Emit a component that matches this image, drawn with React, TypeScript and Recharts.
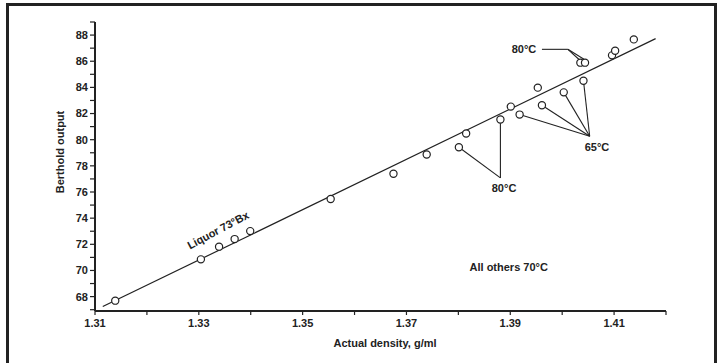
import { ComposedChart, Label, Line, Scatter, XAxis, YAxis } from "recharts";

// Measured points (actual density g/ml vs Berthold output)
const densities = [
  1.3139, 1.3304, 1.3339, 1.3369, 1.3399, 1.3554, 1.3675, 1.3739, 1.3801, 1.3815, 1.3881,
  1.3901, 1.3918, 1.3953, 1.3961, 1.4003, 1.4035, 1.4044, 1.4041, 1.4096, 1.4102, 1.4138,
];
const outputs = [
  67.69, 70.85, 71.82, 72.4, 73.01, 75.46, 77.39, 78.87, 79.42, 80.47, 81.54,
  82.53, 81.92, 83.98, 82.63, 83.62, 85.89, 85.89, 84.51, 86.45, 86.8, 87.67,
];

// Regression line end points
const fitDensity = [1.3115, 1.418];
const fitOutput = [67.24, 87.73];

// Leader lines for the temperature notes: [d1, v1, d2, v2]
const leaderSegments: [number, number, number, number][] = [
  [1.3961, 86.91, 1.4011, 86.91],
  [1.4011, 86.91, 1.4032, 86.15],
  [1.4011, 86.91, 1.4042, 86.15],
  [1.3881, 77.08, 1.3801, 79.42],
  [1.3881, 77.08, 1.3881, 81.54],
  [1.4053, 80.26, 1.3918, 81.92],
  [1.4053, 80.26, 1.3961, 82.63],
  [1.4053, 80.26, 1.4003, 83.62],
  [1.4053, 80.26, 1.4041, 84.51],
];

// Note texts
const noteTexts = ["80°C", "80°C", "65°C", "All others 70°C", "Liquor 73°Bx"];
const noteDensity = [1.395, 1.3888, 1.4067, 1.3897, 1.3337];
const noteOutput = [86.91, 76.32, 79.43, 70.27, 73.1];
const noteAnchor = ["end", "middle", "middle", "middle", "middle"];
const noteAngle = [0, 0, 0, 0, -28];

const xTicks = [1.31, 1.32, 1.33, 1.34, 1.35, 1.36, 1.37, 1.38, 1.39, 1.4, 1.41, 1.42];
const xLabelled = ["1.31", "1.33", "1.35", "1.37", "1.39", "1.41"];
const yTicks = [67, 68, 69, 70, 71, 72, 73, 74, 75, 76, 77, 78, 79, 80, 81, 82, 83, 84, 85, 86, 87, 88, 89];
const yLabelled = [68, 70, 72, 74, 76, 78, 80, 82, 84, 86, 88];

const INK = "#222";
const FONT = "'Liberation Sans', Arial, sans-serif";

const points = densities.map((d, i) => ({ d, v: outputs[i] }));
const fitData = fitDensity.map((d, i) => ({ d, v: fitOutput[i] }));
const notes = noteTexts.map((text, i) => ({
  d: noteDensity[i],
  v: noteOutput[i],
  text,
  anchor: noteAnchor[i],
  angle: noteAngle[i],
}));

const tickStyle = { fontSize: 11, fontWeight: 700, fill: INK, fontFamily: FONT };

const NoteShape = (props: any) => {
  const { cx, cy, payload } = props;
  return (
    <text
      x={cx}
      y={cy}
      textAnchor={payload.anchor}
      dominantBaseline="central"
      transform={payload.angle ? `rotate(${payload.angle} ${cx} ${cy})` : undefined}
      fontSize={11}
      fontWeight={700}
      fontFamily={FONT}
      fill={INK}
    >
      {payload.text}
    </text>
  );
};

const PointShape = (props: any) => (
  <circle cx={props.cx} cy={props.cy} r={3.6} fill="#fff" stroke={INK} strokeWidth={1.2} />
);

export default function App() {
  return (
    <div style={{ position: "relative", width: 722, height: 363, background: "#fff", overflow: "hidden" }}>
      <style>{"body{margin:0}"}</style>
      <div
        style={{
          position: "absolute",
          left: 6,
          top: 3,
          width: 705,
          height: 360,
          border: `3px solid ${INK}`,
          borderBottomWidth: 2,
        }}
      />
      <div style={{ position: "absolute", left: 0, top: 0 }}>
        <ComposedChart width={722} height={363} margin={{ top: 22, right: 56, bottom: 0, left: 0 }}>
          <XAxis
            type="number"
            dataKey="d"
            domain={[1.31, 1.42]}
            ticks={xTicks}
            allowDataOverflow
            height={52}
            tickSize={4}
            tickMargin={4}
            tick={tickStyle}
            tickLine={{ stroke: INK, strokeWidth: 1.2 }}
            axisLine={{ stroke: INK, strokeWidth: 2 }}
            tickFormatter={(v: number) => (xLabelled.includes(v.toFixed(2)) ? v.toFixed(2) : "")}
          >
            <Label
              content={() => (
                <text x={385} y={343} textAnchor="middle" dominantBaseline="central" fontSize={11} fontWeight={700} fontFamily={FONT} fill={INK}>
                  Actual density, g/ml
                </text>
              )}
            />
          </XAxis>
          <YAxis
            type="number"
            dataKey="v"
            domain={[66.9, 89]}
            ticks={yTicks}
            allowDataOverflow
            width={95}
            tickSize={5}
            tick={tickStyle}
            tickLine={{ stroke: INK, strokeWidth: 1.2 }}
            axisLine={{ stroke: INK, strokeWidth: 2 }}
            tickFormatter={(v: number) => (yLabelled.includes(v) ? String(v) : "")}
          >
            <Label
              content={() => (
                <text x={60} y={152} transform="rotate(-90 60 152)" textAnchor="middle" dominantBaseline="central" fontSize={11} fontWeight={700} fontFamily={FONT} fill={INK}>
                  Berthold output
                </text>
              )}
            />
          </YAxis>
          <Line data={fitData} dataKey="v" type="linear" stroke={INK} strokeWidth={1.2} dot={false} activeDot={false} isAnimationActive={false} />
          {leaderSegments.map((s, i) => (
            <Line
              key={i}
              data={[
                { d: s[0], v: s[1] },
                { d: s[2], v: s[3] },
              ]}
              dataKey="v"
              type="linear"
              stroke={INK}
              strokeWidth={1.1}
              dot={false}
              activeDot={false}
              isAnimationActive={false}
            />
          ))}
          <Scatter data={points} dataKey="v" shape={PointShape} isAnimationActive={false} />
          <Scatter data={notes} dataKey="v" shape={NoteShape} isAnimationActive={false} />
        </ComposedChart>
      </div>
    </div>
  );
}
